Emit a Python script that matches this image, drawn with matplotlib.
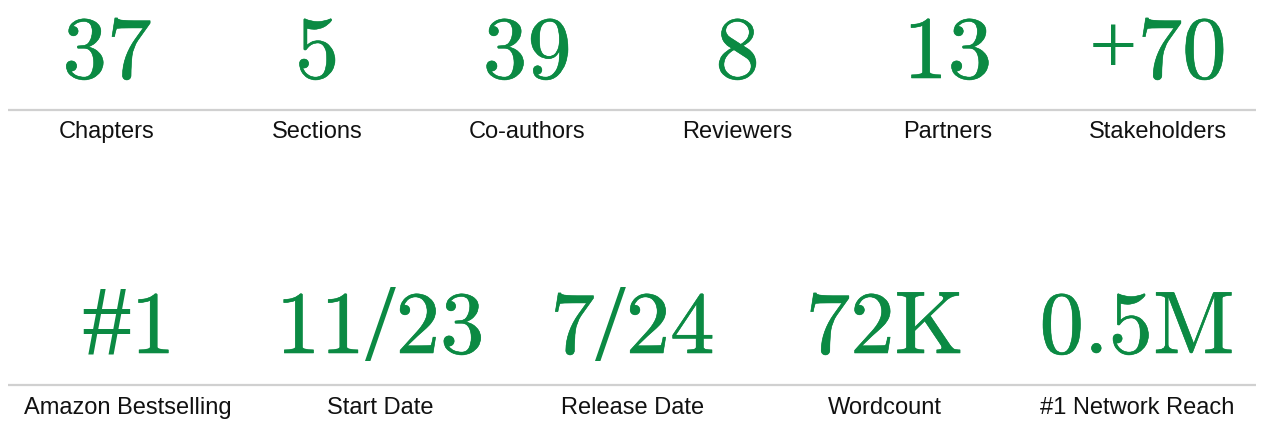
import matplotlib
matplotlib.use("Agg")
import matplotlib.pyplot as plt
import matplotlib.patheffects as pe

# 统计数字 (上下两行)
TOP_VALUES    = ["37", "5", "39", "8", "13", "+70"]
TOP_LABELS    = ["Chapters", "Sections", "Co-authors", "Reviewers", "Partners", "Stakeholders"]
BOTTOM_VALUES = ["#1", "11/23", "7/24", "72K", "0.5M"]
BOTTOM_LABELS = ["Amazon Bestselling", "Start Date", "Release Date", "Wordcount", "#1 Network Reach"]

GREEN = "#0b8a43"
W, H = 1261, 421
NUM_SIZE = 64
# 符号单独用别的衬线字体: (family, size, dy)
SYMBOL_STYLE = {
    "#": ("Liberation Serif", 72, 0),
    "+": ("Liberation Serif", 62, -4),
    "/": ("Liberation Serif", 80, 7),
}
THICKEN = [pe.withStroke(linewidth=0.4, foreground=GREEN)]

fig = plt.figure(figsize=(W / 100, H / 100), dpi=100)
ax = fig.add_axes([0, 0, 1, 1])
ax.set_xlim(0, W)
ax.set_ylim(H, 0)
ax.axis("off")
renderer = fig.canvas.get_renderer()


def split_runs(s):
    runs = []
    for ch in s:
        is_sym = ch in SYMBOL_STYLE
        if runs and not is_sym and not runs[-1][1]:
            runs[-1][0] += ch
        else:
            runs.append([ch, is_sym])
    return runs


def draw_value(cx, base_y, s):
    pieces = []
    for txt, is_sym in split_runs(s):
        fam, size, dy = SYMBOL_STYLE[txt] if is_sym else ("cmr10", NUM_SIZE, 0)
        t = ax.text(0, base_y + dy, txt, family=fam, fontsize=size,
                    color=GREEN, ha="left", va="baseline",
                    path_effects=None if is_sym else THICKEN)
        w = t.get_window_extent(renderer).width
        pieces.append((t, w))
    total = sum(w for _, w in pieces)
    x = cx - total / 2
    for t, w in pieces:
        t.set_x(x)
        x += w


def draw_row(values, labels, num_y, line_y, label_y):
    n = len(values)
    step = W / n
    for i, (v, lab) in enumerate(zip(values, labels)):
        cx = step * (i + 0.5) + 2
        draw_value(cx, num_y, v)
        ax.text(cx, label_y, lab, family="Liberation Sans", fontsize=17,
                color="#111111", ha="center", va="center")
    ax.plot([8, 1256], [line_y, line_y], color="#d0d0d0", linewidth=1.6,
            solid_capstyle="butt")


draw_row(TOP_VALUES, TOP_LABELS, 78, 110, 132)
draw_row(BOTTOM_VALUES, BOTTOM_LABELS, 353, 385, 408)

fig.savefig("out.png", dpi=100)
